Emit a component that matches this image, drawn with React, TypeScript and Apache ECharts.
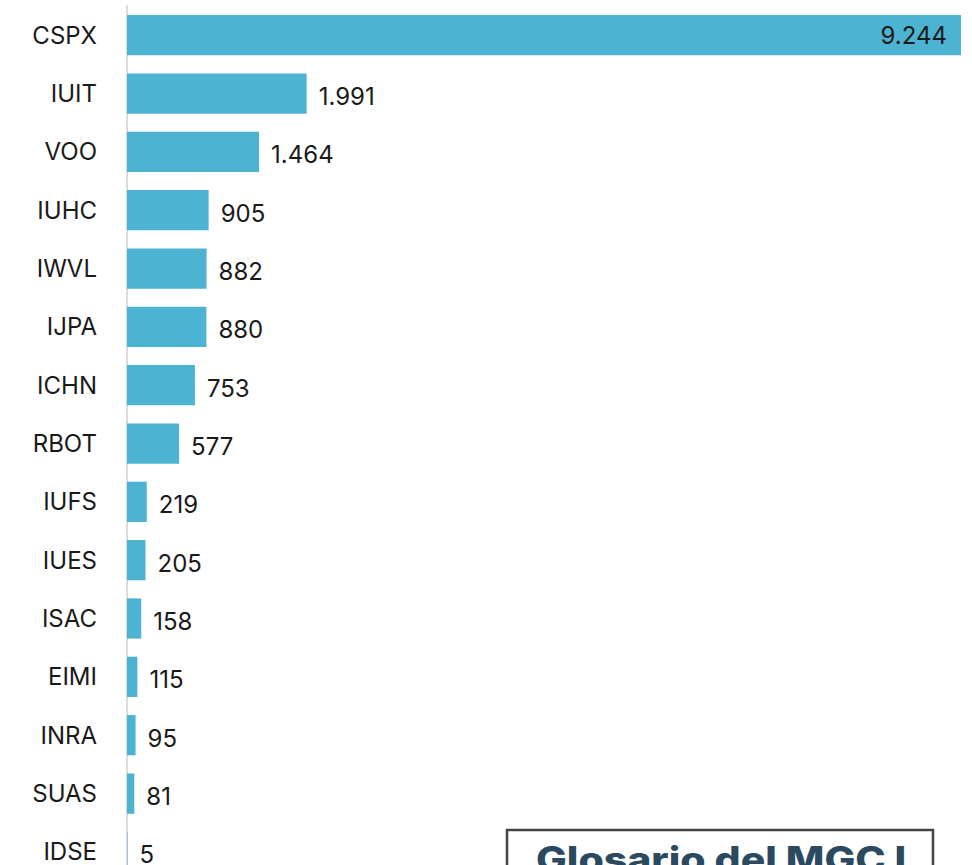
import React, { useEffect, useRef } from "react";
import * as echarts from "echarts";

const categories = ["CSPX", "IUIT", "VOO", "IUHC", "IWVL", "IJPA", "ICHN", "RBOT", "IUFS", "IUES", "ISAC", "EIMI", "INRA", "SUAS", "IDSE"];
const values = [9244, 1991, 1464, 905, 882, 880, 753, 577, 219, 205, 158, 115, 95, 81, 5];
const boxTitle = "Glosario del MGC I";

const fmt = (v: number) => v.toLocaleString("de-DE");

export default function App() {
  const ref = useRef<HTMLDivElement>(null);
  useEffect(() => {
    if (!ref.current) return;
    const chart = echarts.init(ref.current, null, { renderer: "svg" });
    const font = "Inter, 'Noto Sans', sans-serif";
    chart.setOption({
      animation: false,
      grid: { left: 127, right: 11, top: 6, bottom: 0, containLabel: false },
      xAxis: {
        type: "value",
        min: 0,
        max: 9244,
        show: false,
      },
      yAxis: {
        type: "category",
        data: categories,
        inverse: true,
        axisLine: { show: true, lineStyle: { color: "#dcdcdc", width: 2 } },
        axisTick: { show: false },
        axisLabel: { color: "#1a1a1a", fontSize: 24, fontFamily: font, margin: 30 },
      },
      series: [
        {
          type: "bar",
          data: values.map((v, i) =>
            i === 0
              ? { value: v, label: { position: "insideRight", offset: [-2, 0] } }
              : { value: v }
          ),
          barCategoryGap: "31%",
          itemStyle: { color: "#4db3d2" },
          label: {
            show: true,
            position: "right",
            distance: 12,
            offset: [0, 3],
            color: "#1a1a1a",
            fontSize: 24,
            fontFamily: font,
            formatter: (p: any) => fmt(p.value),
          },
        },
      ],
      graphic: [
        {
          type: "rect",
          shape: { x: 507, y: 830, width: 426, height: 60 },
          style: { fill: "#ffffff", stroke: "#444444", lineWidth: 2.5 },
          z: 100,
        },
        {
          type: "text",
          x: 536,
          y: 842,
          scaleX: 1.17,
          style: {
            text: boxTitle,
            fill: "#2b4a5f",
            fontSize: 35,
            fontWeight: 800,
            fontFamily: font,
          },
          z: 101,
        },
      ],
    });
    return () => chart.dispose();
  }, []);
  return (
    <div style={{ position: "fixed", left: 0, top: 0, width: 972, height: 865, overflow: "hidden", background: "#fff" }}>
      <div ref={ref} style={{ width: 972, height: 881 }} />
    </div>
  );
}
